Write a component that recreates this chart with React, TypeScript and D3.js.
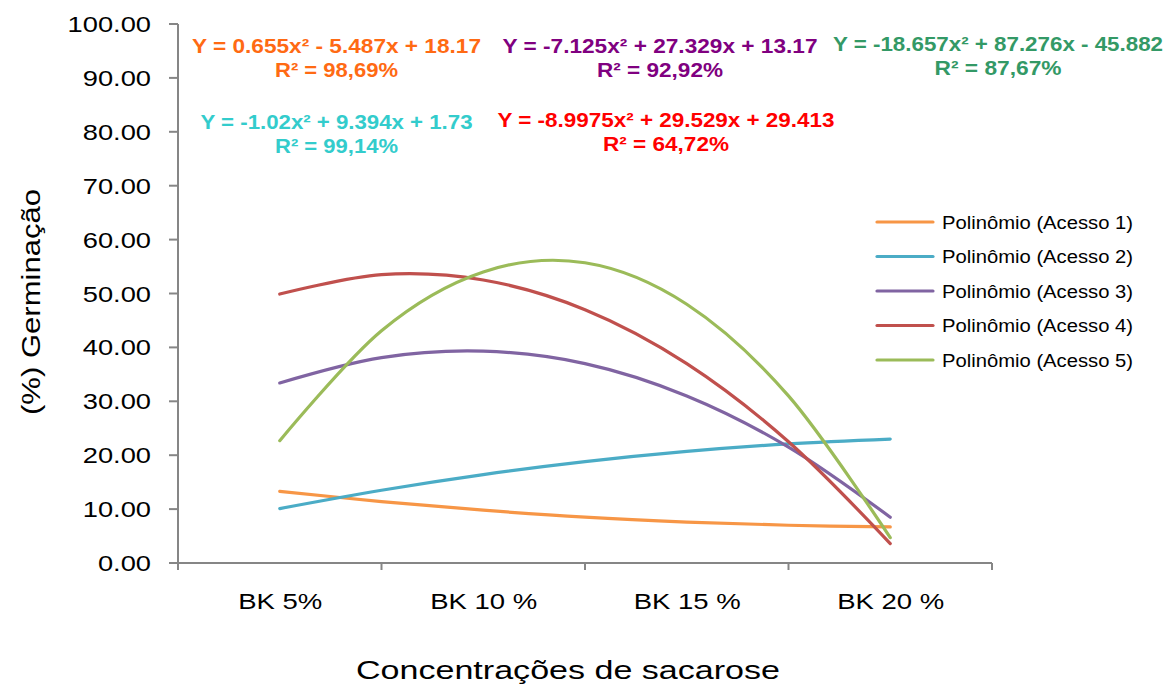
import React from "react";
import * as d3 from "d3";

const categories = ["BK 5%", "BK 10 %", "BK 15 %", "BK 20 %"];
const yTicks = [0, 10, 20, 30, 40, 50, 60, 70, 80, 90, 100];
// positions along the category axis (1 = BK 5%, 4 = BK 20 %) where values were read
const xPositions = [1, 1.5, 2, 2.5, 3, 3.5, 4];
const acesso1 = [13.3, 11.4, 9.8, 8.5, 7.6, 7.0, 6.7];
const acesso2 = [10.1, 13.5, 16.4, 18.8, 20.7, 22.1, 23.0];
const acesso3 = [33.4, 38.1, 39.3, 37.0, 31.0, 21.5, 8.5];
const acesso4 = [49.9, 53.5, 52.5, 47.0, 37.0, 22.5, 3.6];
const acesso5 = [22.7, 43.1, 54.0, 55.7, 48.0, 31.0, 4.7];
const seriesNames = [
  "Polinômio (Acesso 1)",
  "Polinômio (Acesso 2)",
  "Polinômio (Acesso 3)",
  "Polinômio (Acesso 4)",
  "Polinômio (Acesso 5)",
];
const equations = [
  "Y = 0.655x² - 5.487x + 18.17",
  "Y = -1.02x² + 9.394x + 1.73",
  "Y = -7.125x² + 27.329x + 13.17",
  "Y = -8.9975x² + 29.529x + 29.413",
  "Y = -18.657x² + 87.276x - 45.882",
];
const rSquared = ["R² = 98,69%", "R² = 99,14%", "R² = 92,92%", "R² = 64,72%", "R² = 87,67%"];

const lineColors = ["#F79646", "#4BACC6", "#8064A2", "#C0504D", "#9BBB59"];
const eqColors = ["#FF6A13", "#33CCCC", "#800080", "#FF0000", "#339966"];
// label layout: center x, baseline of first line, widths of both lines
const eqLayout = [
  { cx: 336.5, y: 53, w1: 289, w2: 123 },
  { cx: 336.5, y: 129, w1: 272, w2: 123 },
  { cx: 660, y: 53, w1: 315, w2: 126 },
  { cx: 666, y: 127, w1: 337, w2: 126 },
  { cx: 998, y: 51, w1: 330, w2: 127 },
];

const FONT = "'Liberation Sans', Arial, sans-serif";

// approximate Arial advance widths (em) to size stretched labels
const charW = (ch: string) => {
  if (/[0-9]/.test(ch)) return 0.556;
  if (ch === ".") return 0.278;
  if (ch === " ") return 0.278;
  if (ch === "%") return 0.889;
  if (ch === "B" || ch === "K") return 0.667;
  return 0.556;
};
const textW = (s: string, size: number) => s.split("").reduce((a, c) => a + charW(c), 0) * size;

export default function App() {
  const W = 1169, H = 684;
  const left = 178, right = 992, top = 24, bottom = 563;
  const x = d3.scaleLinear().domain([0.5, 4.5]).range([left, right]);
  const y = d3.scaleLinear().domain([0, 100]).range([bottom, top]);
  const band = d3.scaleBand().domain(categories).range([left, right]);
  const allSeries = [acesso1, acesso2, acesso3, acesso4, acesso5];
  const line = d3
    .line<number>()
    .x((_, i) => x(xPositions[i]))
    .y((d) => y(d))
    .curve(d3.curveCatmullRom.alpha(0));
  const axisColor = "#868686";
  const boundaries = d3.range(categories.length + 1).map((i) => left + i * band.bandwidth());

  return (
    <svg
      width={W}
      height={H}
      style={{ position: "absolute", left: 0, top: 0, display: "block", background: "#fff" }}
      fontFamily={FONT}
    >
      {/* Y axis */}
      <line x1={left} x2={left} y1={top} y2={bottom} stroke={axisColor} strokeWidth={2} />
      {yTicks.map((t) => {
        const label = t.toFixed(2);
        const w = textW(label, 22) * 1.24;
        return (
          <g key={t}>
            <line x1={169} x2={left} y1={y(t)} y2={y(t)} stroke={axisColor} strokeWidth={2} />
            <text
              x={151 - w}
              y={y(t) + 8}
              fontSize={22}
              textLength={w}
              lengthAdjust="spacingAndGlyphs"
              fill="#000"
            >
              {label}
            </text>
          </g>
        );
      })}
      {/* X axis */}
      <line x1={left} x2={right} y1={bottom} y2={bottom} stroke={axisColor} strokeWidth={2} />
      {boundaries.map((bx, i) => (
        <line key={i} x1={bx} x2={bx} y1={bottom} y2={bottom + 7} stroke={axisColor} strokeWidth={2} />
      ))}
      {categories.map((c) => {
        const w = textW(c, 22) * 1.25;
        return (
          <text
            key={c}
            x={(band(c) as number) + band.bandwidth() / 2 - w / 2 + 0.5}
            y={609}
            fontSize={22}
            textLength={w}
            lengthAdjust="spacingAndGlyphs"
            fill="#000"
          >
            {c}
          </text>
        );
      })}
      {/* Axis titles */}
      <text
        x={356}
        y={679}
        fontSize={25}
        textLength={424}
        lengthAdjust="spacingAndGlyphs"
        fill="#000"
      >
        Concentrações de sacarose
      </text>
      <text
        transform={`translate(40,${302 + 113}) rotate(-90)`}
        fontSize={26}
        textLength={226}
        lengthAdjust="spacingAndGlyphs"
        fill="#000"
      >
        (%) Germinação
      </text>
      {/* Trend curves */}
      {allSeries.map((s, i) => (
        <path
          key={i}
          d={line(s) as string}
          fill="none"
          stroke={lineColors[i]}
          strokeWidth={3.2}
          strokeLinecap="round"
        />
      ))}
      {/* Equation labels */}
      {equations.map((eq, i) => {
        const L = eqLayout[i];
        return (
          <g key={i} fill={eqColors[i]} fontWeight="bold" fontSize={20}>
            <text x={L.cx - L.w1 / 2} y={L.y} textLength={L.w1} lengthAdjust="spacingAndGlyphs">
              {eq}
            </text>
            <text x={L.cx - L.w2 / 2} y={L.y + 24} textLength={L.w2} lengthAdjust="spacingAndGlyphs">
              {rSquared[i]}
            </text>
          </g>
        );
      })}
      {/* Legend */}
      {seriesNames.map((n, i) => {
        const ly = 222 + i * 34.5;
        return (
          <g key={n}>
            <line x1={877} x2={933} y1={ly} y2={ly} stroke={lineColors[i]} strokeWidth={3.2} strokeLinecap="round" />
            <text
              x={942}
              y={ly + 6.5}
              fontSize={18}
              textLength={191}
              lengthAdjust="spacingAndGlyphs"
              fill="#000"
            >
              {n}
            </text>
          </g>
        );
      })}
    </svg>
  );
}
